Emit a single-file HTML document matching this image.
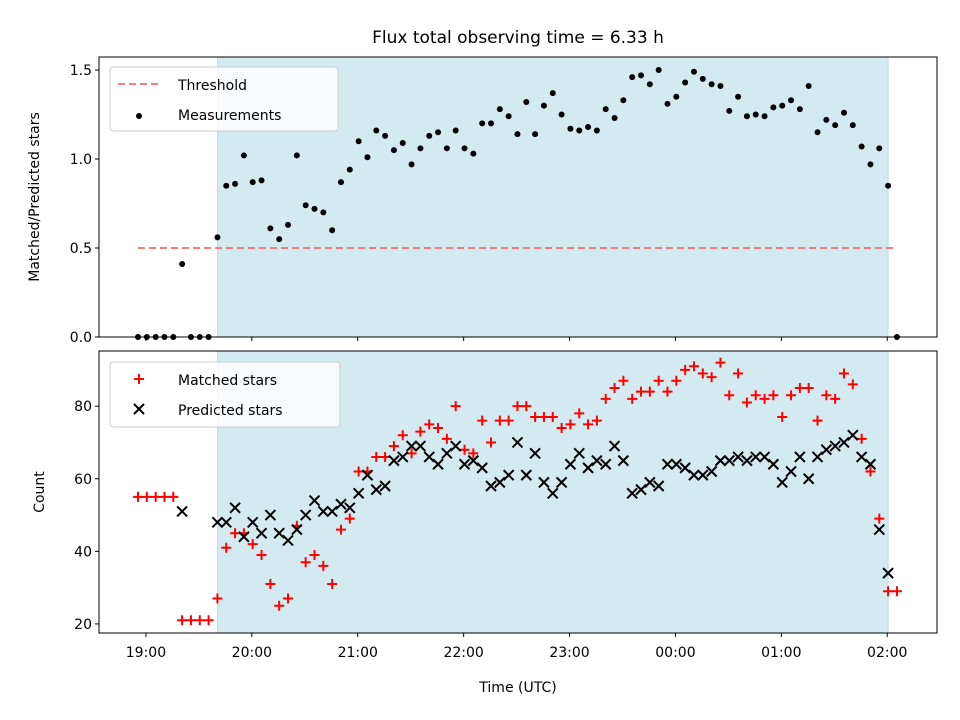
<!DOCTYPE html>
<html><head><meta charset="utf-8"><style>
html,body{margin:0;padding:0;background:#fff}
svg{display:block;font-family:"DejaVu Sans","Liberation Sans",sans-serif}
</style></head><body>
<svg id="chart" width="960" height="720" viewBox="0 0 960 720"></svg>
<script>
// minutes after 19:00 for each sample
const times = [-4.5,0.5,5.5,10.5,15.5,20.5,25.5,30.5,35.5,40.5,45.5,50.5,55.5,60.5,65.5,70.5,75.5,80.5,85.5,90.5,95.5,100.5,105.5,110.5,115.5,120.5,125.5,130.5,135.5,140.5,145.5,150.5,155.5,160.5,165.5,170.5,175.5,180.5,185.5,190.5,195.5,200.5,205.5,210.5,215.5,220.5,225.5,230.5,235.5,240.5,245.5,250.5,255.5,260.5,265.5,270.5,275.5,280.5,285.5,290.5,295.5,300.5,305.5,310.5,315.5,320.5,325.5,330.5,335.5,340.5,345.5,350.5,355.5,360.5,365.5,370.5,375.5,380.5,385.5,390.5,395.5,400.5,405.5,410.5,415.5,420.5,425.5];
const ratio = [0,0,0,0,0,0.41,0,0,0,0.56,0.85,0.86,1.02,0.87,0.88,0.61,0.55,0.63,1.02,0.74,0.72,0.70,0.60,0.87,0.94,1.10,1.01,1.16,1.13,1.05,1.09,0.97,1.06,1.13,1.15,1.06,1.16,1.06,1.03,1.20,1.20,1.28,1.24,1.14,1.32,1.14,1.30,1.37,1.25,1.17,1.16,1.18,1.16,1.28,1.23,1.33,1.46,1.47,1.42,1.50,1.31,1.35,1.43,1.49,1.45,1.42,1.41,1.27,1.35,1.24,1.25,1.24,1.29,1.30,1.33,1.28,1.41,1.15,1.22,1.19,1.26,1.19,1.07,0.97,1.06,0.85,0];
const matched = [55,55,55,55,55,21,21,21,21,27,41,45,45,42,39,31,25,27,47,37,39,36,31,46,49,62,62,66,66,69,72,67,73,75,74,71,80,68,67,76,70,76,76,80,80,77,77,77,74,75,78,75,76,82,85,87,82,84,84,87,84,87,90,91,89,88,92,83,89,81,83,82,83,77,83,85,85,76,83,82,89,86,71,62,49,29,29];
const predicted = [null,null,null,null,null,51,null,null,null,48,48,52,44,48,45,50,45,43,46,50,54,51,51,53,52,56,61,57,58,65,66,69,69,66,64,67,69,64,65,63,58,59,61,70,61,67,59,56,59,64,67,63,65,64,69,65,56,57,59,58,64,64,63,61,61,62,65,65,66,65,66,66,64,59,62,66,60,66,68,69,70,72,66,64,46,34,null];
const threshold = 0.5;
const thresholdRange = [-4.5, 425.5];
const shadeRange = [40.5, 420.5];
const xTicks = [0,60,120,180,240,300,360,420];
const xTickLabels = ["19:00","20:00","21:00","22:00","23:00","00:00","01:00","02:00"];
const topTicks = [0,0.5,1.0,1.5];
const topTickLabels = ["0.0","0.5","1.0","1.5"];
const botTicks = [20,40,60,80];
const botTickLabels = ["20","40","60","80"];

const NS="http://www.w3.org/2000/svg";
const svg=document.getElementById('chart');
function mk(tag,attrs,parent){const e=document.createElementNS(NS,tag);for(const k in attrs)e.setAttribute(k,attrs[k]);(parent||svg).appendChild(e);return e;}
const L=99,R=937;
const X0=-26.6,X1=448.2;
const x=t=>L+(t-X0)/(X1-X0)*(R-L);
const topP={t:57,b:337,y0:0,y1:1.573};
const botP={t:351,b:633,y0:17.5,y1:95.2};
const yT=v=>topP.b-(v-topP.y0)/(topP.y1-topP.y0)*(topP.b-topP.t);
const yB=v=>botP.b-(v-botP.y0)/(botP.y1-botP.y0)*(botP.b-botP.t);

function panel(p,name){
  const g=mk('g',{});
  
  
  const s=mk('rect',{x:x(shadeRange[0]),y:p.t,width:x(shadeRange[1])-x(shadeRange[0]),height:p.b-p.t,fill:'#d4eaf1',stroke:'#bcdde8','stroke-width':1},g);
  
  
  return g;
}
function frame(p,g){
  const f=mk('rect',{x:L,y:p.t,width:R-L,height:p.b-p.t,fill:'none',stroke:'#000','stroke-width':1},g);
  
  
}
function xticks(p,g,labels){
  xTicks.forEach((t,i)=>{
    const xx=x(t);
    mk('line',{x1:xx,x2:xx,y1:p.b,y2:p.b+4,stroke:'#000','stroke-width':1},g);
    if(labels){
      const tx=mk('text',{x:xx,y:p.b+24,'text-anchor':'middle','font-size':14,fill:'#000'},g);
      tx.textContent=xTickLabels[i];
      
      
    }
  });
}
function yticks(g,ticks,labels,yf){
  ticks.forEach((v,i)=>{
    const yy=yf(v);
    mk('line',{x1:L-4,x2:L,y1:yy,y2:yy,stroke:'#000','stroke-width':1},g);
    const tx=mk('text',{x:L-7,y:yy+5,'text-anchor':'end','font-size':14,fill:'#000'},g);
    tx.textContent=labels[i];
    
    
  });
}

// Top panel
const gT=panel(topP,'ratio-panel');
const th=mk('line',{x1:x(thresholdRange[0]),x2:x(thresholdRange[1]),y1:yT(threshold),y2:yT(threshold),stroke:'#f47d7d','stroke-width':2,'stroke-dasharray':'7,4'},gT);


ratio.forEach((v,i)=>{
  const c=mk('circle',{cx:x(times[i]),cy:yT(v),r:3,fill:'#000'},gT);
  
  
});
frame(topP,gT);xticks(topP,gT,false);yticks(gT,topTicks,topTickLabels,yT);

// Bottom panel
const gB=panel(botP,'count-panel');
matched.forEach((v,i)=>{
  if(v===null)return;
  const cx=x(times[i]),cy=yB(v);
  const m=mk('path',{d:`M${cx-5},${cy}H${cx+5}M${cx},${cy-5}V${cy+5}`,stroke:'#ff0000','stroke-width':2,fill:'none'},gB);
  
  
});
predicted.forEach((v,i)=>{
  if(v===null)return;
  const cx=x(times[i]),cy=yB(v);
  const m=mk('path',{d:`M${cx-5},${cy-5}L${cx+5},${cy+5}M${cx-5},${cy+5}L${cx+5},${cy-5}`,stroke:'#000','stroke-width':2,fill:'none'},gB);
  
  
});
frame(botP,gB);xticks(botP,gB,true);yticks(gB,botTicks,botTickLabels,yB);
</script>
<div style="position:absolute;left:0;top:0;width:960px;height:720px;pointer-events:none">
<svg width="960" height="720" style="position:absolute;left:0;top:0">
  <text x="518" y="43" text-anchor="middle" font-size="17" font-family="DejaVu Sans, Liberation Sans, sans-serif">Flux total observing time = 6.33 h</text>
  <text x="518" y="692" text-anchor="middle" font-size="14" font-family="DejaVu Sans, Liberation Sans, sans-serif">Time (UTC)</text>
  <text transform="translate(39,197) rotate(-90)" text-anchor="middle" font-size="14" font-family="DejaVu Sans, Liberation Sans, sans-serif">Matched/Predicted stars</text>
  <text transform="translate(44,492) rotate(-90)" text-anchor="middle" font-size="14" font-family="DejaVu Sans, Liberation Sans, sans-serif">Count</text>
  <g font-family="DejaVu Sans, Liberation Sans, sans-serif" font-size="14">
    <rect x="110" y="67" width="228" height="64" rx="3" fill="#fff" fill-opacity="0.8" stroke="#ccc"/>
    <line x1="118" x2="160" y1="84" y2="84" stroke="#f47d7d" stroke-width="2" stroke-dasharray="7,4"/>
    <text x="178" y="90">Threshold</text>
    <circle cx="139" cy="116" r="3" fill="#000"/>
    <text x="178" y="120">Measurements</text>
  </g>
  <g font-family="DejaVu Sans, Liberation Sans, sans-serif" font-size="14">
    <rect x="110" y="362" width="230" height="65" rx="3" fill="#fff" fill-opacity="0.8" stroke="#ccc"/>
    <path d="M134,379H144M139,374V384" stroke="#ff0000" stroke-width="2"/>
    <text x="178" y="385">Matched stars</text>
    <path d="M134,404L144,414M134,414L144,404" stroke="#000" stroke-width="2"/>
    <text x="178" y="415">Predicted stars</text>
  </g>
</svg>
</div>
</body></html>
